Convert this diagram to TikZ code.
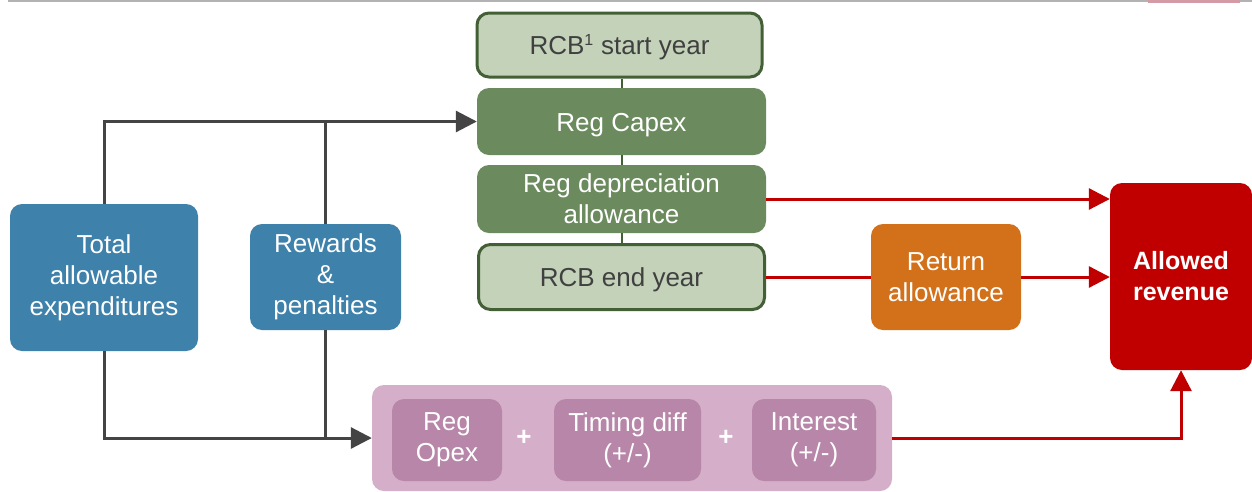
\documentclass[tikz,border=0pt]{standalone}
\usepackage{fontspec}
\setmainfont{Liberation Sans}
\usetikzlibrary{arrows.meta}
\definecolor{lgfill}{HTML}{C3D2B9}
\definecolor{dgline}{HTML}{435F35}
\definecolor{mgfill}{HTML}{6B8B5E}
\definecolor{bluef}{HTML}{3E81AA}
\definecolor{orangef}{HTML}{D2711A}
\definecolor{redf}{HTML}{C00000}
\definecolor{purpo}{HTML}{D5AEC9}
\definecolor{purpi}{HTML}{B786A8}
\definecolor{txtd}{HTML}{404040}
\definecolor{linegray}{HTML}{444444}
\definecolor{topbar}{HTML}{D49AA6}
\begin{document}
\begin{tikzpicture}[x=1pt,y=-1pt,
  box/.style={rectangle, rounded corners=12pt, inner sep=0pt, align=center,
    font=\fontsize{26}{31}\selectfont},
  oneline/.style={text height=24pt, text depth=5pt},
  lightbox/.style={box, fill=lgfill, draw=dgline, line width=3pt, text=txtd},
  midbox/.style={box, fill=mgfill, text=white},
  bluebox/.style={box, fill=bluef, text=white},
  orangebox/.style={box, fill=orangef, text=white},
  redbox/.style={box, fill=redf, text=white, font=\fontsize{25}{31}\selectfont\bfseries},
  outerbox/.style={box, fill=purpo},
  innerbox/.style={box, fill=purpi, text=white},
  plus/.style={text=white, font=\fontsize{26}{26}\selectfont\bfseries, inner sep=0pt},
  gline/.style={draw=linegray, line width=3pt},
  rline/.style={draw=redf, line width=3pt},
  tip/.style={-{Triangle[length=21pt,width=21pt]}},
  link/.style={draw=dgline, line width=2pt}
]
\useasboundingbox (0,0) rectangle (1252,491);
\fill[white] (0,0) rectangle (1252,491);
\draw[draw=black!30, line width=2pt] (8,1) -- (1252,1);
\fill[topbar] (1148,0) rectangle (1240,3);

% green stack
\node[lightbox, oneline, minimum width=285pt, minimum height=64pt] (rcbs) at (619.5,45) {RCB\textsuperscript{\fontsize{16}{16}\selectfont 1} start year};
\node[midbox, oneline, minimum width=289pt, minimum height=67pt] (capex) at (621.5,121.5) {Reg Capex};
\node[midbox, minimum width=289pt, minimum height=68pt] (dep) at (621.5,199) {Reg depreciation\\allowance};
\node[lightbox, oneline, minimum width=286pt, minimum height=65pt] (rcbe) at (621.5,277) {RCB end year};

% left boxes
\node[bluebox, minimum width=188pt, minimum height=147pt] (total) at (104,277.5) {Total\\allowable\\expenditures};
\node[bluebox, minimum width=151pt, minimum height=106pt] (rew) at (325.5,277) {Rewards\\\&\\penalties};

% right boxes
\node[orangebox, minimum width=150pt, minimum height=106pt] (ret) at (946,277) {Return\\allowance};
\node[redbox, minimum width=142pt, minimum height=187pt] (allowed) at (1181,276.5) {Allowed\\revenue};

% purple group
\node[outerbox, minimum width=520pt, minimum height=106pt] (opexbg) at (632,438) {};
\node[innerbox, minimum width=110pt, minimum height=82pt] (opex) at (447,440) {Reg\\Opex};
\node[innerbox, minimum width=147pt, minimum height=82pt] (timing) at (627.5,440) {Timing diff\\(+/-)};
\node[innerbox, minimum width=124pt, minimum height=82pt] (interest) at (814,440) {Interest\\(+/-)};
\node[plus] (p1) at (524,438) {+};
\node[plus] (p2) at (726,438) {+};

% links in green stack
\draw[link] (capex.north) -- (capex.north |- rcbs.south);
\draw[link] (capex.south) -- (dep.north);
\draw[link] (dep.south) -- (rcbe.north);

% gray connectors
\draw[gline, tip] (total.north) |- (capex.west);
\draw[gline] (rew.north) -- (rew.north |- capex.west);
\draw[gline, tip] (total.south) |- (opexbg.west);
\draw[gline] (rew.south) -- (rew.south |- opexbg.west);

% red connectors
\draw[rline, tip] (dep.east) -- (dep.east -| allowed.west);
\draw[rline] (rcbe.east) -- (ret.west);
\draw[rline, tip] (ret.east) -- (ret.east -| allowed.west);
\draw[rline, tip] (opexbg.east) -| (allowed.south);
\end{tikzpicture}
\end{document}
